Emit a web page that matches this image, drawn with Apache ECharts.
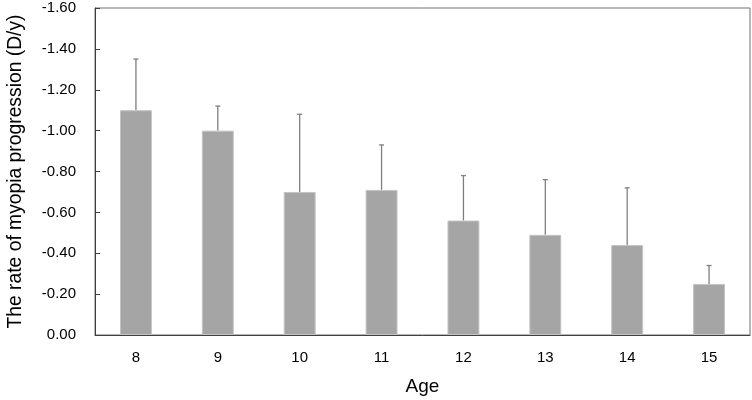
<!DOCTYPE html>
<html>
<head>
<meta charset="utf-8">
<script src="https://cdn.jsdelivr.net/npm/echarts@6/dist/echarts.min.js"></script>
<style>html,body{margin:0;padding:0;background:#fff}#c{width:752px;height:400px}</style>
</head>
<body>
<div id="c"></div>
<script>
const ages = ['8', '9', '10', '11', '12', '13', '14', '15'];
const rates = [-1.10, -1.00, -0.70, -0.71, -0.56, -0.49, -0.44, -0.25];
const sds = [0.25, 0.12, 0.38, 0.22, 0.22, 0.27, 0.28, 0.09];
const yTicks = [-1.6, -1.4, -1.2, -1.0, -0.8, -0.6, -0.4, -0.2, 0];

const chart = echarts.init(document.getElementById('c'));
const errData = ages.map((a, i) => [i, rates[i], rates[i] - sds[i]]);
chart.setOption({
  animation: false,
  textStyle: { fontFamily: 'Liberation Sans, Arial, sans-serif' },
  grid: { left: 95, right: 2, top: 8, bottom: 65, outerBoundsMode: 'none', containLabel: false, show: true, borderColor: '#707070', borderWidth: 1 },
  xAxis: {
    type: 'category',
    data: ages,
    name: 'Age',
    nameLocation: 'middle',
    nameGap: 42,
    nameTextStyle: { fontSize: 19, color: '#000' },
    axisLine: { lineStyle: { color: '#404040', width: 1 } },
    axisTick: { inside: true, length: 5, alignWithLabel: false, lineStyle: { color: '#404040' } },
    axisLabel: { fontSize: 15, color: '#000', margin: 15 }
  },
  yAxis: {
    type: 'value',
    inverse: true,
    min: yTicks[0],
    max: yTicks[yTicks.length - 1],
    interval: 0.2,
    name: 'The rate of myopia progression (D/y)',
    nameLocation: 'middle',
    nameGap: 70,
    nameRotate: 90,
    nameTextStyle: { fontSize: 19.3, color: '#000' },
    axisLine: { show: true, lineStyle: { color: '#404040', width: 1 } },
    axisTick: { show: true, inside: true, length: 5, lineStyle: { color: '#404040' } },
    axisLabel: { fontSize: 15, color: '#000', margin: 19, formatter: v => v.toFixed(2) },
    splitLine: { show: false }
  },
  series: [
    {
      type: 'bar',
      data: rates,
      barWidth: '39%',
      itemStyle: { color: '#a5a5a5', borderColor: '#c4c4c4', borderWidth: 1 }
    },
    {
      type: 'custom',
      data: errData,
      z: 1,
      renderItem: function (params, api) {
        const x = api.value(0);
        const p1 = api.coord([x, api.value(1)]);
        const p2 = api.coord([x, api.value(2)]);
        return {
          type: 'group',
          children: [
            { type: 'line', shape: { x1: p1[0], y1: p1[1], x2: p2[0], y2: p2[1] }, style: { stroke: '#7f7f7f', lineWidth: 1.3 } },
            { type: 'line', shape: { x1: p2[0] - 2.5, y1: p2[1], x2: p2[0] + 2.5, y2: p2[1] }, style: { stroke: '#7f7f7f', lineWidth: 1.3 } }
          ]
        };
      }
    }
  ]
});
</script>
</body>
</html>
